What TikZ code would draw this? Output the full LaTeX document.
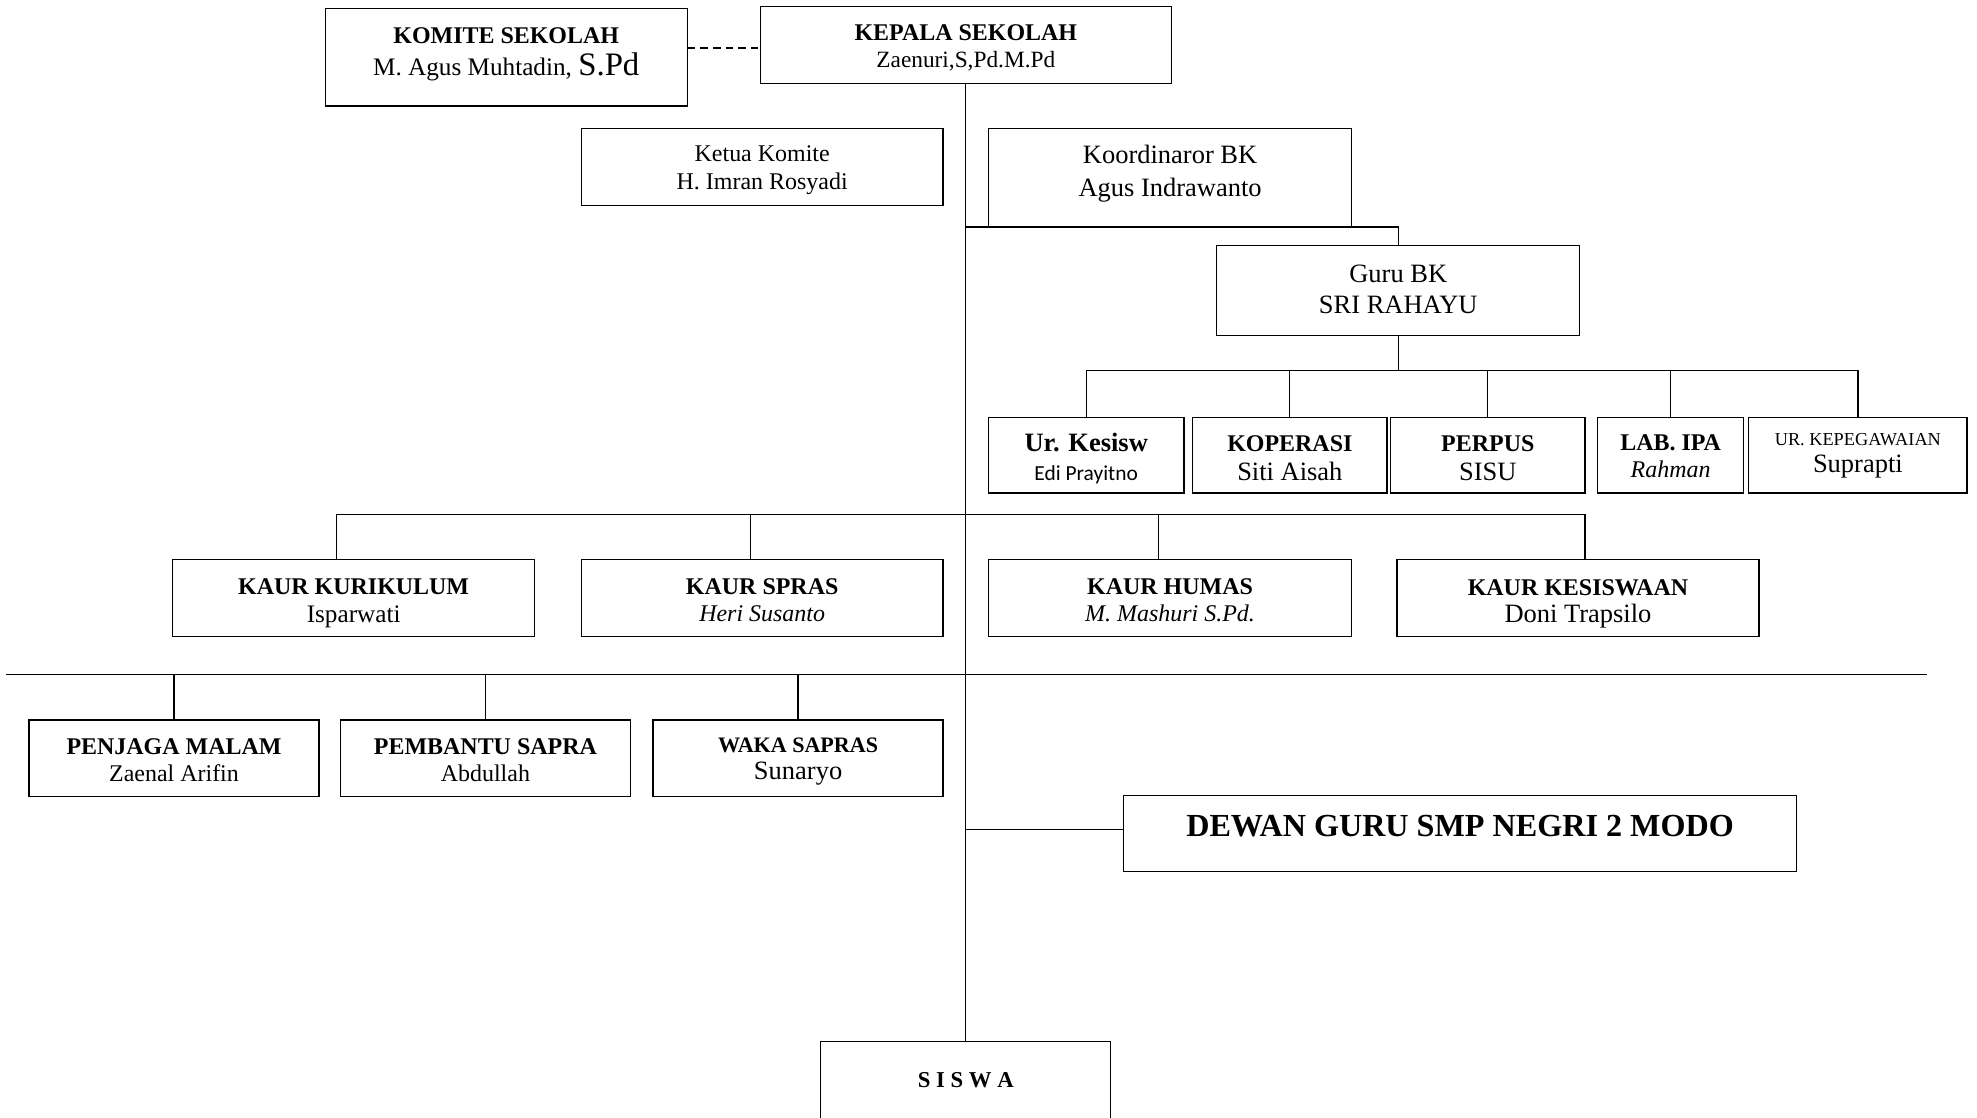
\documentclass[tikz,border=0pt]{standalone}
\usepackage{fontspec}
\setmainfont{Liberation Serif}
\newfontfamily\calfont{Carlito}
\usetikzlibrary{calc}
\newcommand\fs[2]{\fontsize{#1}{#2}\selectfont}
\begin{document}
\begin{tikzpicture}[x=1pt,y=-1pt,
  box/.style={draw, line width=1pt, inner sep=0pt, rectangle},
  txt/.style={align=center, inner sep=0pt},
  conn/.style={line width=1pt}]
\useasboundingbox (0,0) rectangle (1568,886);
\fill[white] (0,0) rectangle (1568,886);
\clip (0,0) rectangle (1568,886);
% boxes
\node[box, minimum width=287, minimum height=77] (komite) at (401.5,45.5) {};
\node[box, minimum width=326, minimum height=61] (kepala) at (766,35.5) {};
\node[box, minimum width=287, minimum height=61] (ketua) at (604.5,132.5) {};
\node[box, minimum width=288, minimum height=78] (koord) at (928,141) {};
\node[box, minimum width=288, minimum height=71] (guru) at (1109,230.5) {};
\node[box, minimum width=155, minimum height=60] (urk) at (861.5,361) {};
\node[box, minimum width=154, minimum height=60] (kop) at (1023,361) {};
\node[box, minimum width=154, minimum height=60] (perp) at (1180,361) {};
\node[box, minimum width=116, minimum height=60] (lab) at (1325,361) {};
\node[box, minimum width=173, minimum height=60] (kepeg) at (1473.5,361) {};
\node[box, minimum width=287, minimum height=61] (kur) at (280.5,474.5) {};
\node[box, minimum width=287, minimum height=61] (spras) at (604.5,474.5) {};
\node[box, minimum width=288, minimum height=61] (humas) at (928,474.5) {};
\node[box, minimum width=287, minimum height=61] (kes) at (1251.5,474.5) {};
\node[box, minimum width=230, minimum height=61] (penjaga) at (138,601.5) {};
\node[box, minimum width=230, minimum height=61] (pembantu) at (385,601.5) {};
\node[box, minimum width=230, minimum height=61] (waka) at (633,601.5) {};
\node[box, minimum width=534, minimum height=60] (dewan) at (1158,661) {};
\node[box, minimum width=230, minimum height=64] (siswa) at (766,858) {};
% texts
\node[txt, font=\fs{20}{26}] (komite-t) at (401.5,43) {{\bfseries\fs{19}{26}KOMITE SEKOLAH}\\ M. Agus Muhtadin, {\fs{26}{26}S.Pd}};
\node[txt, font=\fs{18.5}{22}] (kepala-t) at (766,38) {{\bfseries\fs{19}{22}KEPALA SEKOLAH}\\ Zaenuri,S,Pd.M.Pd};
\node[txt, font=\fs{19}{22}] (ketua-t) at (604.5,135) {Ketua Komite\\ H. Imran Rosyadi};
\node[txt, font=\fs{21}{26}] (koord-t) at (928,138) {Koordinaror BK\\ Agus Indrawanto};
\node[txt, font=\fs{21}{25}] (guru-t) at (1109,229.5) {Guru BK\\ SRI RAHAYU};
\node[txt, font=\calfont\fs{17}{23}] (urk-t) at (861.5,364) {{\rmfamily\bfseries\fs{21}{23}Ur. Kesisw}\\ Edi Prayitno};
\node[txt, font=\fs{21}{23}] (kop-t) at (1023,363.5) {{\bfseries\fs{19}{23}KOPERASI}\\ Siti Aisah};
\node[txt, font=\fs{21}{23}] (perp-t) at (1180,363.5) {{\bfseries\fs{19}{23}PERPUS}\\ SISU};
\node[txt, font=\itshape\fs{19}{21}] (lab-t) at (1325,362) {{\upshape\bfseries LAB. IPA}\\ Rahman};
\node[txt, font=\fs{21}{21}] (kepeg-t) at (1473.5,361.5) {{\fs{14.5}{21}UR. KEPEGAWAIAN}\\ Suprapti};
\node[txt, font=\fs{20}{22}] (kur-t) at (280.5,478.5) {{\bfseries\fs{19}{22}KAUR KURIKULUM}\\ Isparwati};
\node[txt, font=\itshape\fs{19}{22}] (spras-t) at (604.5,476) {{\upshape\bfseries KAUR SPRAS}\\ Heri Susanto};
\node[txt, font=\itshape\fs{19}{22}] (humas-t) at (928,476) {{\upshape\bfseries KAUR HUMAS}\\ M. Mashuri S.Pd.};
\node[txt, font=\fs{21}{22}] (kes-t) at (1251.5,479) {{\bfseries\fs{19}{22}KAUR KESISWAAN}\\ Doni Trapsilo};
\node[txt, font=\fs{19}{22}] (penjaga-t) at (138,603) {{\bfseries PENJAGA MALAM}\\ Zaenal Arifin};
\node[txt, font=\fs{19}{22}] (pembantu-t) at (385,603) {{\bfseries PEMBANTU SAPRA}\\ Abdullah};
\node[txt, font=\fs{21}{22}] (waka-t) at (633,604) {{\bfseries\fs{17.5}{22}WAKA SAPRAS}\\ Sunaryo};
\node[txt, font=\bfseries\fs{25.5}{30}] (dewan-t) at (1158,655) {DEWAN GURU SMP NEGRI 2 MODO};
\node[txt, font=\bfseries\fs{18}{22}] (siswa-t) at (766,857) {S I S W A};
% connectors
\draw[conn] (kepala.south) -- (siswa.north);
\draw[conn, dash pattern=on 6pt off 4pt] (komite.east |- 0,38) -- (kepala.west |- 0,38);
\coordinate (jbk) at (766,180);
\draw[conn] (jbk) -| (guru.north);
\coordinate (gbus) at (1109,294);
\draw[conn] (guru.south) -- (gbus);
\foreach \n in {urk,kop,perp,lab,kepeg} \draw[conn] (gbus) -| (\n.north);
\coordinate (jk) at (766,408);
\draw[conn] (jk) -| ([xshift=-13.5pt]kur.north);
\draw[conn] (jk) -| ([xshift=-9.5pt]spras.north);
\draw[conn] (jk) -| ([xshift=-9pt]humas.north);
\draw[conn] (jk) -| ([xshift=5.5pt]kes.north);
\coordinate (ll) at (5,535);
\coordinate (lr) at (1528,535);
\draw[conn] (ll) -- (lr);
\foreach \n in {penjaga,pembantu,waka} \draw[conn] (\n.north |- ll) -- (\n.north);
\coordinate (jd) at (766,658);
\draw[conn] (jd) -- (dewan.west |- jd);
\end{tikzpicture}
\end{document}
